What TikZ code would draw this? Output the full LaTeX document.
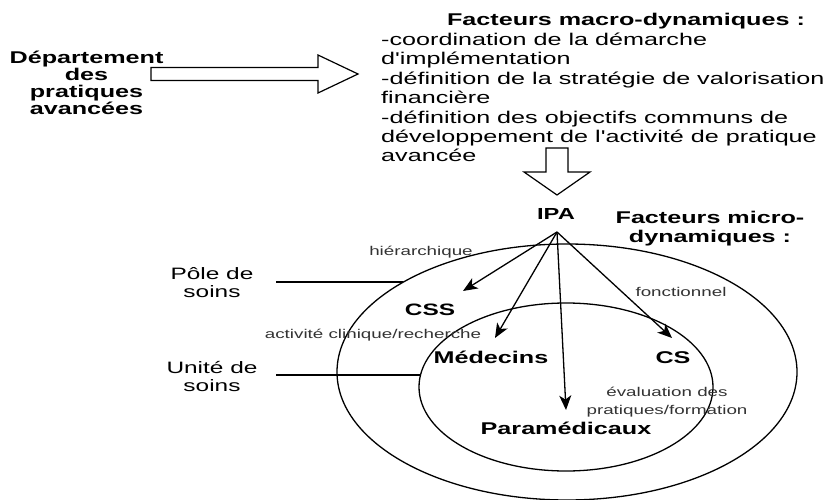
\documentclass[tikz,border=0pt]{standalone}
\usepackage{fontspec}
\setmainfont[FakeStretch=1.48,Ligatures=TeXOff]{Liberation Sans}
\usetikzlibrary{arrows.meta}
\begin{document}
\begin{tikzpicture}[x=1pt,y=-1pt,
  txt/.style={inner sep=0pt, align=center, font=\fontsize{17}{19.4}\selectfont},
  txtb/.style={inner sep=0pt, align=center, font=\fontsize{17}{19}\selectfont\bfseries},
  small/.style={inner sep=0pt, align=center, text=black!80, font=\fontsize{12.7}{17.5}\selectfont},
  outline/.style={draw=black, line width=1.2pt, fill=white, line join=miter},
  ring/.style={draw=black, line width=1.3pt},
  lead/.style={draw=black, line width=1.2pt},
  rel/.style={draw=black, line width=1.3pt, -{Stealth[length=14.5pt,width=12pt,inset=4pt]}}]
\useasboundingbox (0,0) rectangle (827,500);

% top part
\node[txtb, anchor=north, font=\fontsize{17}{17.2}\selectfont\bfseries] (dep) at (86.5,50.5)
  {Département\\des\\pratiques\\avancées};
\node[txtb, anchor=base] (macro) at (626,26) {Facteurs macro-dynamiques :};
\foreach \t [count=\i] in {{-coordination de la démarche},{d'implémentation},
  {-définition de la stratégie de valorisation},{financière},
  {-définition des objectifs communs de},{développement de l'activité de pratique},{avancée}}
  \node[txt, anchor=base west] (m\i) at (381,{45.5+(\i-1)*19.4}) {\t};

\draw[outline] (151,67.5) -- (318,67.5) -- (318,55) -- (358,74) -- (318,93) -- (318,80.5) -- (151,80.5) -- cycle;
\draw[outline] (546,148) -- (568,148) -- (568,172) -- (590,172) -- (557,195) -- (524,172) -- (546,172) -- cycle;

% rings
\draw[ring] (567,372) ellipse [x radius=230, y radius=128];
\draw[ring] (566,387) ellipse [x radius=147, y radius=84];

% left labels
\node[txt, anchor=north, font=\fontsize{16.5}{18}\selectfont] (pole) at (212,267) {Pôle de\\soins};
\node[txt, anchor=north, font=\fontsize{16.5}{18}\selectfont] (unite) at (212,361) {Unité de\\soins};
\coordinate (pa) at (276,282);
\coordinate (pb) at (403,282);
\coordinate (ua) at (276,375);
\coordinate (ub) at (420.5,375);
\draw[lead] (pa) -- (pb);
\draw[lead] (ua) -- (ub);

% actors
\node[txtb, anchor=base, font=\fontsize{16}{19}\selectfont\bfseries] (ipa) at (556,219) {IPA};
\node[txtb, anchor=north] (micro) at (710,210.6) {Facteurs micro-\\dynamiques :};
\node[txtb, anchor=base, font=\fontsize{16.5}{19}\selectfont\bfseries] (css) at (430,315) {CSS};
\node[txtb, anchor=base] (med) at (491,363) {Médecins};
\node[txtb, anchor=base] (cs) at (673,363) {CS};
\node[txtb, anchor=base] (para) at (566,434) {Paramédicaux};

% relation labels
\node[small, anchor=base] (hier) at (421,255.5) {hiérarchique};
\node[small, anchor=base] (clin) at (373,338.5) {activité clinique/recherche};
\node[small, anchor=base] (fonc) at (681,296.5) {fonctionnel};
\node[small, anchor=north] (eval) at (667,387) {évaluation des\\pratiques/formation};

% arrows
\coordinate (apex) at (557,232);
\coordinate (tcss) at (463,291);
\coordinate (tmed) at (495,338);
\coordinate (tpara) at (566,410);
\coordinate (tcs) at (672,338);
\draw[rel] (apex) -- (tcss);
\draw[rel] (apex) -- (tmed);
\draw[rel] (apex) -- (tpara);
\draw[rel] (apex) -- (tcs);
\end{tikzpicture}
\end{document}
